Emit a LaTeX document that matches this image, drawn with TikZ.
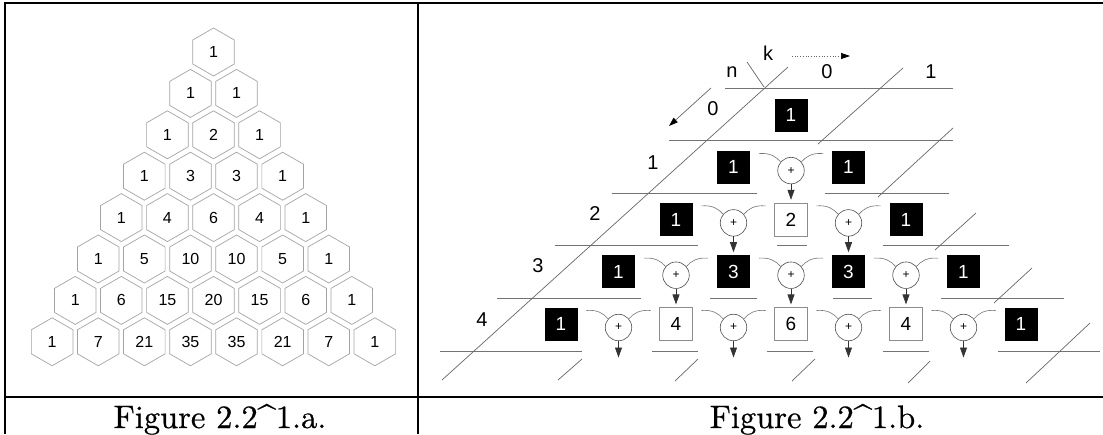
\documentclass[tikz,border=0pt]{standalone}
\usepackage{fontspec}
\newfontfamily\sfa{Liberation Sans}
\newfontfamily\capfont{lmroman10-regular.otf}[FakeBold=0.6]
\usetikzlibrary{arrows.meta,calc}
\begin{document}
\begin{tikzpicture}[x=1pt,y=-1pt,
  frame/.style={line width=1.2pt,black},
  hexline/.style={draw=black!36,line width=0.7pt},
  hexnum/.style={inner sep=0pt,font=\sfa\fontsize{16}{16}\selectfont},
  grid/.style={draw=black!55,line width=0.7pt},
  diag/.style={draw=black!60,line width=0.7pt},
  lbl/.style={inner sep=0pt,font=\sfa\fontsize{20}{20}\selectfont},
  cell/.style={minimum width=33pt,minimum height=33pt,inner sep=0pt,font=\sfa\fontsize{19}{19}\selectfont},
  bbox/.style={cell,fill=black,text=white},
  wbox/.style={cell,draw=black!45,line width=0.6pt},
  plus/.style={circle,draw=black!70,line width=0.6pt,minimum size=26.5pt,inner sep=0pt,font=\sfa\fontsize{12}{12}\selectfont},
  arm/.style={draw=black!55,line width=0.6pt},
  sumarrow/.style={draw=black!80,line width=0.7pt,-{Triangle[width=7pt,length=10pt]},shorten >=3pt},
  axisarrow/.style={draw=black!60,line width=0.7pt,-{Triangle[width=6pt,length=9pt,color=black]}},
  captext/.style={inner sep=0pt,anchor=base,font=\capfont\fontsize{32.5}{32.5}\selectfont}
]
\useasboundingbox (0,0) rectangle (1103,434);
% frame
\draw[frame] (5,434) -- (5,3) -- (1103,3);
\draw[frame] (418,3) -- (418,434);
\draw[frame] (5,397) -- (1103,397);
% captions
\node[captext] (capa) at (220,428) {Figure 2.2\textasciicircum 1.a.};
\node[captext] (capb) at (817,428) {Figure 2.2\textasciicircum 1.b.};
% hexagon triangle
\foreach \r/\vals in {0/{1},1/{1,1},2/{1,2,1},3/{1,3,3,1},4/{1,4,6,4,1},5/{1,5,10,10,5,1},6/{1,6,15,20,15,6,1},7/{1,7,21,35,35,21,7,1}}{
  \foreach \v [count=\j from 0] in \vals {
    \node[hexnum] (h-\r-\j) at ({213.5+46.1*(\j-\r/2)},{52+41.4*\r}) {\v};
    \draw[hexline] (h-\r-\j.center) +(90:24) -- +(30:24) -- +(-30:24) -- +(-90:24) -- +(-150:24) -- +(150:24) -- cycle;
  }
}
% right: grid lines
\draw[grid] (725,88) -- (953,88);
\draw[grid] (669,140.6) -- (953,140.6);
\draw[grid] (612,193.2) -- (757,193.2) (825,193.2) -- (949,193.2);
\draw[grid] (555,245.8) -- (698,245.8) (777,245.8) -- (807,245.8) (883,245.8) -- (1009,245.8);
\draw[grid] (497,298.4) -- (641,298.4) (710,298.4) -- (757,298.4) (833,298.4) -- (872,298.4) (941,298.4) -- (1064,298.4);
\draw[grid] (440,351) -- (582,351) (652,351) -- (698,351) (767,351) -- (813,351) (883,351) -- (929,351) (998,351) -- (1100,351);
% diagonals
\draw[diag] (788,67) -- (442,380);
\draw[diag] (903,68) -- (818,144);
\draw[diag] (953,128) -- (878,197);
\draw[diag] (976,213) -- (935,250);
\draw[diag] (1032,268) -- (994,303);
\draw[diag] (1090,323) -- (1026,383);
\draw[diag] (582,359) -- (558,380) (698,359) -- (675,381) (815,359) -- (792,381) (930,361) -- (908,383);
\draw[diag] (747,62) -- (764,87);
% labels
\node[lbl] (k) at (768,53) {k};
\node[lbl] (n) at (732,72) {n};
\node[lbl] (k0) at (827,72) {0};
\node[lbl] (k1) at (931,72) {1};
\node[lbl] (n0) at (713,109) {0};
\node[lbl] (n1) at (653,163) {1};
\node[lbl] (n2) at (595,214) {2};
\node[lbl] (n3) at (538,266) {3};
\node[lbl] (n4) at (482,320) {4};
% axis arrows
\coordinate (kas) at (792,56); \coordinate (kae) at (850,56);
\draw[axisarrow,dotted] (kas) -- (kae);
\coordinate (nas) at (711,88); \coordinate (nae) at (669,126);
\draw[axisarrow] (nas) -- (nae);
% boxes
\foreach \n/\k/\sty/\t in {0/0/bbox/1, 1/0/bbox/1, 1/2/bbox/1, 2/0/bbox/1, 2/2/wbox/2, 2/4/bbox/1, 3/0/bbox/1, 3/2/bbox/3, 3/4/bbox/3, 3/6/bbox/1, 4/0/bbox/1, 4/2/wbox/4, 4/4/wbox/6, 4/6/wbox/4, 4/8/bbox/1}
  \node[\sty] (e-\n-\k) at ({791+57.5*(\k-\n)},{115+52.3*\n}) {\t};
% plus circles, arms, arrows
\foreach \n/\ks in {1/{1},2/{1,3},3/{1,3,5},4/{1,3,5,7}}{
  \foreach \k in \ks {
    \node[plus] (e-\n-\k) at ({791+57.5*(\k-\n)},{118.3+52.3*\n}) {+};
    \draw[arm] ($(e-\n-\k)+(-32,-17)$) .. controls ($(e-\n-\k)+(-21,-18)$) and ($(e-\n-\k)+(-15,-14)$) .. (e-\n-\k.140);
    \draw[arm] (e-\n-\k.40) .. controls ($(e-\n-\k)+(15,-14)$) and ($(e-\n-\k)+(21,-18)$) .. ($(e-\n-\k)+(32,-17)$);
    \ifnum\n<4
      \pgfmathtruncatemacro\nn{\n+1}
      \pgfmathtruncatemacro\kk{\k+1}
      \draw[sumarrow] (e-\n-\k) -- (e-\nn-\kk);
    \else
      \coordinate (t-\k) at ($(e-\n-\k)+(0,30)$);
      \draw[sumarrow,shorten >=0pt] (e-\n-\k) -- (t-\k);
    \fi
  }
}
\end{tikzpicture}
\end{document}
